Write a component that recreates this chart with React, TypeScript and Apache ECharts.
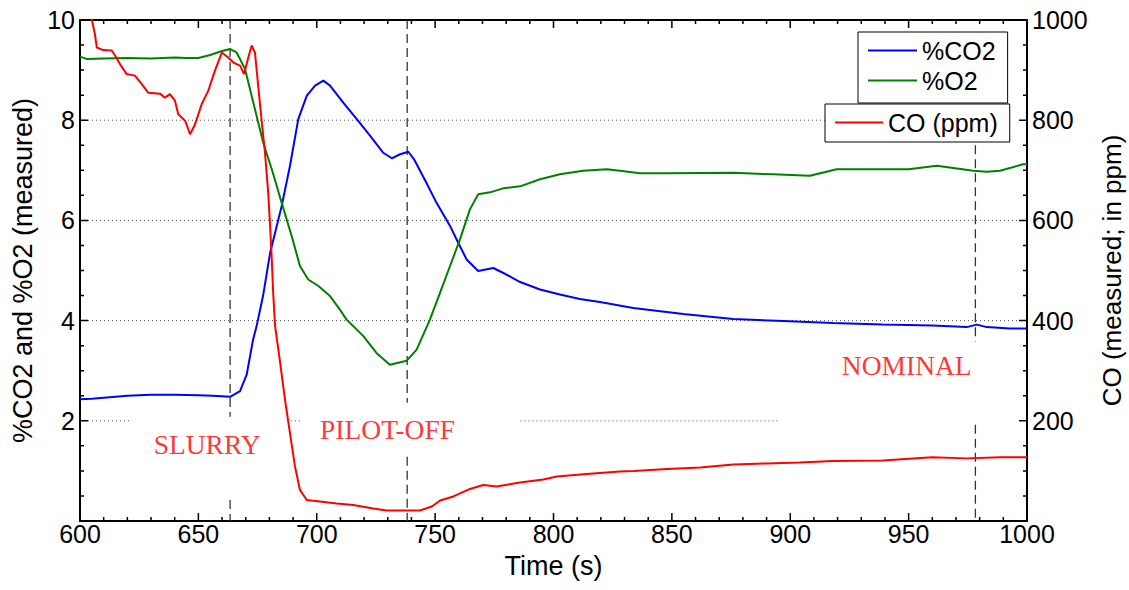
import React, { useEffect, useRef } from 'react';
import * as echarts from 'echarts';

// Time (s) vs %CO2 (left axis)
const co2Data: [number, number][] = [
  [600, 2.43], [605, 2.44], [610, 2.46], [620, 2.5], [630, 2.52], [640, 2.52], [650, 2.51],
  [656, 2.5], [663.4, 2.48], [667.6, 2.59], [670.4, 2.92], [673.1, 3.62], [674.6, 3.89],
  [677.3, 4.49], [680.3, 5.35], [685.2, 6.29], [688.7, 7.09], [692.2, 8.02], [695.8, 8.49],
  [699.3, 8.69], [702.8, 8.79], [705.6, 8.69], [711.2, 8.35], [716.9, 8.02], [722.5, 7.69],
  [728.1, 7.35], [731.7, 7.24], [735.2, 7.32], [738.7, 7.37], [741.1, 7.22], [746.3, 6.75],
  [750.6, 6.35], [756.3, 5.89], [759.8, 5.55], [763.3, 5.22], [768.2, 4.99], [774.6, 5.05],
  [780.1, 4.92], [785.9, 4.77], [794.3, 4.62], [802.7, 4.52], [811.1, 4.43], [819.6, 4.37],
  [833.7, 4.25], [854.8, 4.13], [875.9, 4.03], [897, 3.99], [918, 3.95], [939, 3.92],
  [960, 3.9], [974.5, 3.87], [978.8, 3.92], [983, 3.87], [992.8, 3.84], [1000, 3.84],
];

// Time (s) vs %O2 (left axis)
const o2Data: [number, number][] = [
  [600, 9.27], [603, 9.22], [610, 9.23], [620, 9.24], [630, 9.23], [640, 9.25], [645, 9.24],
  [650, 9.24], [655, 9.3], [660, 9.38], [663.4, 9.42], [666, 9.36], [667.6, 9.22],
  [669.7, 9.02], [673.9, 8.22], [677.4, 7.55], [681, 7.02], [685.2, 6.35], [689.4, 5.69],
  [692.9, 5.09], [696.4, 4.82], [700.7, 4.69], [705.6, 4.49], [709.8, 4.22], [712.6, 4.02],
  [719.7, 3.69], [725.3, 3.35], [730.9, 3.12], [738, 3.2], [742.2, 3.42], [747.8, 4.02],
  [752.1, 4.56], [756.3, 5.09], [760.5, 5.62], [764.7, 6.22], [768.2, 6.52], [773.2, 6.56],
  [778.7, 6.64], [785.9, 6.68], [794.3, 6.82], [802.7, 6.92], [812.5, 6.99], [822.5, 7.02],
  [828.1, 6.99], [836.5, 6.94], [847.8, 6.94], [875.8, 6.95], [892.7, 6.92], [908.3, 6.89],
  [919.6, 7.02], [950, 7.02], [961.9, 7.09], [977.3, 6.99], [983, 6.97], [988.6, 6.99],
  [998.3, 7.12], [1000, 7.12],
];

// Time (s) vs CO in ppm (right axis)
const coData: [number, number][] = [
  [600, 1100], [605, 1000], [606.3, 972], [607.1, 945], [609.8, 940], [613.4, 939],
  [614.8, 929], [616.9, 912], [619.7, 892], [623.2, 889], [626.1, 872], [628.8, 855],
  [633.8, 853], [635.9, 845], [638, 852], [640.1, 839], [641.5, 812], [644.4, 799],
  [646.5, 772], [648.6, 792], [651.4, 832], [654.2, 859], [657, 899], [659.9, 935],
  [662.6, 925], [664.8, 915], [667.6, 909], [669.3, 892], [671.1, 925], [672.5, 949],
  [673.9, 935], [675.3, 867], [676.7, 800], [678.1, 737], [679.5, 655], [680.3, 589],
  [681, 522], [681.6, 455], [682.4, 389], [683.8, 342], [686.6, 242], [688.7, 175],
  [690.8, 109], [692.9, 62], [695.8, 42], [701.4, 39], [708.4, 35], [715.4, 32],
  [723.9, 25], [729.5, 21], [738, 21], [743.6, 21], [748.6, 29], [752.1, 41], [757.7, 49],
  [764.7, 64], [770.3, 72], [776, 69], [785.9, 77], [795.7, 83], [801.4, 89], [814, 94],
  [828, 99], [834, 100], [848, 104], [862, 107], [876, 113], [890, 115], [904, 117],
  [918, 120], [939, 121], [960, 127], [974.5, 125], [988.6, 127], [1000, 127],
];

// Event markers (vertical dashed lines), with the spans hidden behind annotation boxes
const eventTimes = [663.4, 738.2, 978.2];
const eventTop = [10, 10, 7.5];
const eventGapTop = [2.08, 2.36, 3.58];
const eventGapBottom = [0.42, 1.28, 1.92];

const annotationNames = ['SLURRY', 'PILOT-OFF', 'NOMINAL'];
const annotationTimes = [653.7, 729.9, 949.2];
const annotationLevels = [1.53, 1.83, 3.1];

// Dotted grid levels and the visible spans of each
const gridLevels = [8, 6, 4, 2];
const gridSpans: [number, number][][] = [
  [[600, 914.7]],
  [[600, 1000]],
  [[600, 1000]],
  [[600, 621], [687.4, 693], [786, 895.7]],
];

// Axis ranges and tick steps
const xRange = [600, 1000];
const xMajorStep = 50;
const xMinorStep = 10;
const yLeftRange = [0, 10];
const yLeftMajorStep = 2;
const yLeftMinorStep = 0.5;
const yRightRange = [0, 1000];
const yRightMajorStep = 200;
const yRightMinorStep = 50;

const sans = 'Liberation Sans, Arial, Helvetica, sans-serif';
// tick lengths in pixels (major, minor)
const MAJOR_PX = 8;
const MINOR_PX = 4;

function steps(lo: number, hi: number, step: number) {
  const out: number[] = [];
  const n = Math.round((hi - lo) / step);
  for (let i = 0; i <= n; i++) out.push(+(lo + i * step).toFixed(6));
  return out;
}
function isMajor(v: number, step: number) {
  return Math.abs(v / step - Math.round(v / step)) < 1e-6;
}

function axisLine() {
  return { show: true, onZero: false, lineStyle: { color: '#000', width: 2 } };
}

const GRID = { left: 80, right: 102, top: 20, bottom: 69 };
const W = 1129;
const H = 590;

export default function App() {
  const ref = useRef<HTMLDivElement>(null);

  useEffect(() => {
    if (!ref.current) return;
    const chart = echarts.init(ref.current, null, { renderer: 'svg' });

    const gridData: any[] = [];
    gridLevels.forEach((lv, i) => {
      gridSpans[i].forEach(([a, b]) => {
        if (gridData.length) gridData.push([a, '-']);
        gridData.push([a, lv], [b, lv]);
      });
    });

    const eventData: any[] = [];
    eventTimes.forEach((t, i) => {
      if (eventData.length) eventData.push([t, '-']);
      eventData.push([t, eventTop[i]], [t, eventGapTop[i]], [t, '-'], [t, eventGapBottom[i]], [t, 0]);
    });

    const annData = annotationNames.map((n, i) => ({
      name: n,
      value: [annotationTimes[i], annotationLevels[i]],
    }));

    const plotW = W - GRID.left - GRID.right;
    const plotH = H - GRID.top - GRID.bottom;
    const xPerPx = (xRange[1] - xRange[0]) / plotW;
    const yLPerPx = (yLeftRange[1] - yLeftRange[0]) / plotH;

    // each tick is its own two-point segment, separated by empty points
    const tickLeft: any[] = [];
    steps(xRange[0], xRange[1], xMinorStep).forEach((v) => {
      const len = (isMajor(v, xMajorStep) ? MAJOR_PX : MINOR_PX) * yLPerPx;
      tickLeft.push([v, yLeftRange[0]], [v, yLeftRange[0] + len], [v, '-']);
      tickLeft.push([v, yLeftRange[1]], [v, yLeftRange[1] - len], [v, '-']);
    });
    steps(yLeftRange[0], yLeftRange[1], yLeftMinorStep).forEach((v) => {
      const len = (isMajor(v, yLeftMajorStep) ? MAJOR_PX : MINOR_PX) * xPerPx;
      tickLeft.push([xRange[0], v], [xRange[0] + len, v], [xRange[0], '-']);
    });
    const tickRight: any[] = [];
    steps(yRightRange[0], yRightRange[1], yRightMinorStep).forEach((v) => {
      const len = (isMajor(v, yRightMajorStep) ? MAJOR_PX : MINOR_PX) * xPerPx;
      tickRight.push([xRange[1], v], [xRange[1] - len, v], [xRange[1], '-']);
    });

    const legendBase = {
      orient: 'vertical',
      itemHeight: 2,
      icon: 'rect',
      backgroundColor: '#fff',
      borderColor: '#000',
      borderWidth: 1,
      borderRadius: 0,
      textStyle: { fontSize: 25, fontFamily: sans, color: '#000' },
    };

    const tickSeries = (data: any[], yAxisIndex: number) => ({
      type: 'line',
      data,
      xAxisIndex: 0,
      yAxisIndex,
      symbol: 'none',
      showSymbol: false,
      silent: true,
      connectNulls: false,
      lineStyle: { color: '#000', width: 1.5 },
      z: 6,
    });

    const option: any = {
      animation: false,
      backgroundColor: '#fff',
      grid: { ...GRID, containLabel: false, outerBoundsMode: 'none' },
      legend: [
        {
          ...legendBase,
          data: ['%CO2', '%O2'],
          left: 858,
          top: 32,
          padding: [6, 12, 10, 10],
          itemGap: 5,
          itemWidth: 49,
          z: 10,
        },
        {
          ...legendBase,
          data: ['CO (ppm)'],
          left: 825,
          top: 104,
          padding: [6, 12, 7, 10],
          itemWidth: 48,
          z: 11,
        },
      ],
      xAxis: [
        {
          type: 'value',
          position: 'bottom',
          min: xRange[0],
          max: xRange[1],
          interval: xMajorStep,
          axisLine: axisLine(),
          axisTick: { show: false },
          splitLine: { show: false },
          axisLabel: {
            fontSize: 25,
            lineHeight: 25,
            fontFamily: sans,
            color: '#000',
            margin: 0,
            alignMinLabel: 'center',
            alignMaxLabel: 'center',
            formatter: (v: number) => String(v),
          },
          name: 'Time (s)',
          nameLocation: 'middle',
          nameGap: 31,
          nameTextStyle: { fontSize: 27, fontFamily: sans, color: '#000' },
        },
        {
          type: 'value',
          position: 'top',
          min: xRange[0],
          max: xRange[1],
          interval: xMajorStep,
          axisLine: axisLine(),
          axisTick: { show: false },
          splitLine: { show: false },
          axisLabel: { show: false },
        },
      ],
      yAxis: [
        {
          type: 'value',
          position: 'left',
          min: yLeftRange[0],
          max: yLeftRange[1],
          interval: yLeftMajorStep,
          axisLine: axisLine(),
          axisTick: { show: false },
          splitLine: { show: false },
          axisLabel: {
            fontSize: 25,
            fontFamily: sans,
            color: '#000',
            margin: 5,
            formatter: (v: number) => (v === 0 ? '' : String(v)),
          },
          name: '%CO2 and %O2 (measured)',
          nameLocation: 'middle',
          nameRotate: 90,
          nameGap: 43,
          nameTextStyle: { fontSize: 27, fontFamily: sans, color: '#000' },
        },
        {
          type: 'value',
          position: 'right',
          min: yRightRange[0],
          max: yRightRange[1],
          interval: yRightMajorStep,
          axisLine: axisLine(),
          axisTick: { show: false },
          splitLine: { show: false },
          axisLabel: {
            fontSize: 25,
            fontFamily: sans,
            color: '#000',
            margin: 5,
            formatter: (v: number) => (v === 0 ? '' : String(v)),
          },
          name: 'CO (measured; in ppm)',
          nameLocation: 'middle',
          nameRotate: 90,
          nameGap: 70,
          nameTextStyle: { fontSize: 26, fontFamily: sans, color: '#000' },
        },
      ],
      series: [
        {
          type: 'line',
          data: gridData,
          xAxisIndex: 0,
          yAxisIndex: 0,
          symbol: 'none',
          silent: true,
          connectNulls: false,
          lineStyle: { color: '#555', width: 1, type: [1, 3] },
          z: 1,
        },
        {
          type: 'line',
          data: eventData,
          xAxisIndex: 0,
          yAxisIndex: 0,
          symbol: 'none',
          silent: true,
          connectNulls: false,
          lineStyle: { color: '#333', width: 1.3, type: [9, 5] },
          z: 2,
        },
        tickSeries(tickLeft, 0),
        tickSeries(tickRight, 1),
        {
          name: '%CO2',
          type: 'line',
          data: co2Data,
          xAxisIndex: 0,
          yAxisIndex: 0,
          symbol: 'none',
          color: '#0000ff',
          lineStyle: { color: '#0000ff', width: 2 },
          z: 3,
        },
        {
          name: '%O2',
          type: 'line',
          data: o2Data,
          xAxisIndex: 0,
          yAxisIndex: 0,
          symbol: 'none',
          color: '#008000',
          lineStyle: { color: '#008000', width: 2 },
          z: 3,
        },
        {
          name: 'CO (ppm)',
          type: 'line',
          data: coData,
          xAxisIndex: 0,
          yAxisIndex: 1,
          symbol: 'none',
          color: '#ff0000',
          lineStyle: { color: '#ff0000', width: 2 },
          z: 4,
        },
        {
          type: 'scatter',
          data: annData,
          xAxisIndex: 0,
          yAxisIndex: 0,
          symbolSize: 2,
          silent: true,
          itemStyle: { color: 'rgba(0,0,0,0)' },
          label: {
            show: true,
            position: 'inside',
            formatter: '{b}',
            fontSize: 27.5,
            fontFamily: 'Liberation Serif, Times New Roman, serif',
            color: '#ff0000',
            textBorderWidth: 0,
          },
          z: 5,
        },
      ],
    };

    chart.setOption(option);
    return () => chart.dispose();
  }, []);

  return (
    <div
      ref={ref}
      style={{ position: 'absolute', left: 0, top: 0, width: W, height: H, background: '#fff' }}
    />
  );
}
